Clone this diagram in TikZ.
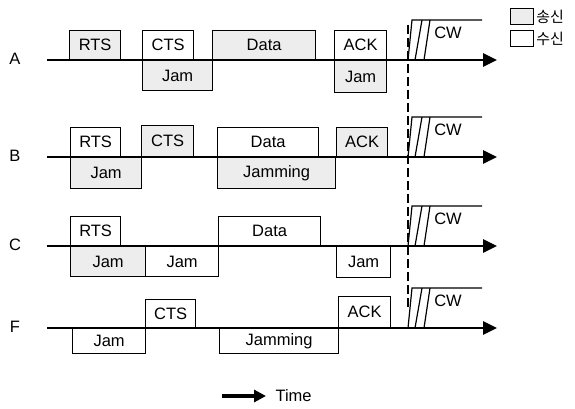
\documentclass[tikz,border=0pt]{standalone}
\usepackage{fontspec}
\setmainfont{Liberation Sans}
\newfontfamily\krfont{Noto Sans CJK KR}
\usetikzlibrary{arrows.meta}

\tikzset{
  tx/.style={draw, line width=1.2pt, fill=black!7, inner sep=0pt},
  rx/.style={draw, line width=1.2pt, fill=white, inner sep=0pt},
  up/.style={anchor=south west, minimum height=29pt},
  dn/.style={anchor=north west, minimum height=30pt},
  axis/.style={line width=2.6pt, -{Triangle[length=14pt,width=13pt]}},
  cw/.style={line width=1.2pt},
}

\begin{document}
\begin{tikzpicture}[x=1pt, y=-1pt, font=\fontsize{16.5}{18}\selectfont]
    \useasboundingbox (0,0) rectangle (575,409);
    % row A
    \node[tx, up, minimum width=51pt] (aRTS) at (69,60) {RTS};
    \node[rx, up, minimum width=51pt] (aCTS) at (142,60) {CTS};
    \node[tx, dn, minimum width=70pt] (aJam) at (142,60) {Jam};
    \node[tx, up, minimum width=103pt] (aData) at (212,60) {Data};
    \node[rx, up, minimum width=52pt] (aACK) at (334,60) {ACK};
    \node[tx, dn, minimum width=52pt, minimum height=32pt] (aJamB) at (334,60) {Jam};
    % row B
    \node[rx, up, minimum width=50pt] (bRTS) at (70,157) {RTS};
    \node[tx, dn, minimum width=71pt, minimum height=31pt] (bJam) at (70,157) {Jam};
    \node[tx, up, minimum width=52pt, minimum height=31pt] (bCTS) at (141,157) {CTS};
    \node[rx, up, minimum width=101pt] (bData) at (217,157) {Data};
    \node[tx, dn, minimum width=118pt, minimum height=31pt] (bJamming) at (217,157) {Jamming};
    \node[tx, up, minimum width=51pt] (bACK) at (336,157) {ACK};
    % row C
    \node[rx, up, minimum width=50pt] (cRTS) at (70,246) {RTS};
    \node[tx, dn, minimum width=75pt] (cJam) at (70,246) {Jam};
    \node[rx, dn, minimum width=73pt] (cJamB) at (145,246) {Jam};
    \node[rx, up, minimum width=102pt] (cData) at (218,246) {Data};
    \node[rx, dn, minimum width=54pt, minimum height=31pt] (cJamC) at (336,246) {Jam};
    % row F
    \node[rx, dn, minimum width=73pt, minimum height=25pt] (fJam) at (72,328) {Jam};
    \node[rx, up, minimum width=50pt, minimum height=28pt] (fCTS) at (145,328) {CTS};
    \node[rx, dn, minimum width=119pt, minimum height=25pt] (fJamming) at (219,328) {Jamming};
    \node[rx, up, minimum width=52pt, minimum height=31pt] (fACK) at (338,328) {ACK};

    % dashed line
    \coordinate (dTop) at (408,25);
    \coordinate (dBot) at (408,308);
    \draw[line width=1.3pt, dash pattern=on 9pt off 4pt] (dTop) -- (dBot);

    % axes and CW
    \foreach \n/\lab/\y in {a/A/60, b/B/157, c/C/246, f/F/328}{
        \node (\n Lab) at (15,\y-1) {\lab};
        \coordinate (\n S) at (47,\y);
        \coordinate (\n E) at (497,\y);
        \draw[axis] (\n S) -- (\n E);
        \draw[cw] (408,\y) -- (412,\y-40) -- (482,\y-40);
        \draw[cw] (415,\y) -- (422,\y-40);
        \draw[cw] (424,\y) -- (430,\y-40);
        \node (\n CW) at (448,\y-27) {CW};
    }

    % legend
    \node[tx, minimum width=23pt, minimum height=16pt, anchor=north west] (legTx) at (510,8) {};
    \node[anchor=west, inner sep=2pt] (legTxT) at (legTx.east) {\krfont\fontsize{15}{16}\selectfont 송신};
    \node[rx, minimum width=23pt, minimum height=16pt, anchor=north west] (legRx) at (510,30) {};
    \node[anchor=west, inner sep=2pt] (legRxT) at (legRx.east) {\krfont\fontsize{15}{16}\selectfont 수신};

    % time arrow
    \coordinate (tS) at (222,396);
    \coordinate (tE) at (266,396);
    \draw[line width=3.5pt, -{Triangle[length=12pt,width=12pt]}] (tS) -- (tE);
    \node[anchor=west] (time) at (272,396) {Time};
\end{tikzpicture}
\end{document}
